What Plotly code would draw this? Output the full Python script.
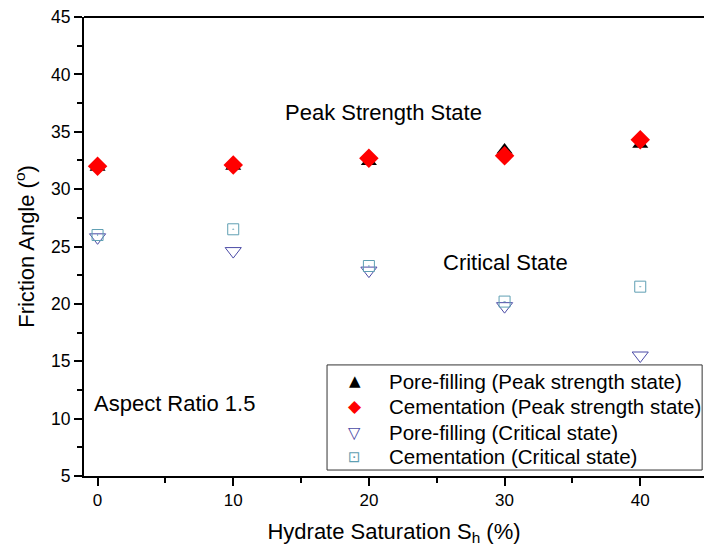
import plotly.graph_objects as go

# Hydrate saturation (%)
saturation = [0, 10, 20, 30, 40]

# Friction angles (degrees)
pore_filling_peak = [31.9, 32.0, 32.4, 33.4, 33.9]
cementation_peak = [32.0, 32.1, 32.7, 32.9, 34.3]
pore_filling_critical = [25.8, 24.6, 22.9, 19.8, 15.5]
cementation_critical = [26.0, 26.5, 23.3, 20.2, 21.5]

x_ticks = [0, 10, 20, 30, 40]
y_ticks = [5, 10, 15, 20, 25, 30, 35, 40, 45]

series_names = [
    "Pore-filling (Peak strength state)",
    "Cementation (Peak strength state)",
    "Pore-filling (Critical state)",
    "Cementation (Critical state)",
]

FONT = "Arial, Liberation Sans, sans-serif"

# style per series: (plot symbol, size, colour, legend glyph, glyph size)
styles = [
    ("triangle-up", 14, "black", "\u25B2", 15),
    ("diamond", 15, "#ff0000", "\u25C6", 17),
    ("triangle-down-open", 14, "#4b4ba6", "\u25BD", 16),
    ("square-open-dot", 11, "#5f9fb3", "\u22A1", 15),
]
series_values = [pore_filling_peak, cementation_peak,
                 pore_filling_critical, cementation_critical]

fig = go.Figure()
for name, vals, (sym, size, color, _, _) in zip(series_names, series_values, styles):
    fig.add_trace(go.Scatter(
        x=saturation, y=vals, mode="markers", name=name, showlegend=False,
        marker=dict(symbol=sym, size=size, color=color,
                    line=dict(width=1 if "open" in sym else 0)),
    ))

annotations = [
    dict(x=21.07, y=36.7, text="Peak Strength State", xanchor="center"),
    dict(x=30.05, y=23.6, text="Critical State", xanchor="center"),
    dict(x=-0.4, y=11.3, text="Aspect Ratio 1.5", xanchor="left"),
]
for a in annotations:
    fig.add_annotation(x=a["x"], y=a["y"], text=a["text"], xref="x", yref="y",
                       xanchor=a["xanchor"], yanchor="middle", showarrow=False,
                       font=dict(family=FONT, size=22, color="black"))

# top frame line
fig.add_shape(type="line", xref="paper", yref="paper", x0=0, x1=1, y0=1, y1=1,
              line=dict(color="black", width=2))

# legend box with compact rows
fig.add_shape(type="rect", xref="paper", yref="paper",
              x0=0.392, x1=0.997, y0=0.013, y1=0.242,
              line=dict(color="#333333", width=1), fillcolor="white", layer="above")
row_y = [0.206, 0.152, 0.095, 0.042]
for yy, name, (_, _, color, glyph, gsize) in zip(row_y, series_names, styles):
    fig.add_annotation(x=0.437, y=yy, xref="paper", yref="paper", text=glyph,
                       showarrow=False, xanchor="center", yanchor="middle",
                       font=dict(family="DejaVu Sans", size=gsize, color=color))
    fig.add_annotation(x=0.489, y=yy, xref="paper", yref="paper", text=name,
                       showarrow=False, xanchor="left", yanchor="middle",
                       font=dict(family=FONT, size=20.5, color="black"))

fig.update_layout(
    width=704, height=555,
    margin=dict(l=84, r=0, t=17, b=79),
    paper_bgcolor="white", plot_bgcolor="white",
    font=dict(family=FONT, color="black"),
    showlegend=False,
    xaxis=dict(
        range=[-1, 44.7], tickvals=x_ticks, ticks="outside", ticklen=8,
        tickwidth=2, tickcolor="black", showline=True, linecolor="black",
        linewidth=2, showgrid=False, zeroline=False,
        tickfont=dict(family=FONT, size=17),
        minor=dict(dtick=5, tick0=0, ticks="outside", ticklen=5,
                   tickwidth=2, tickcolor="black", showgrid=False),
        title=dict(text="Hydrate Saturation S<sub>h</sub> (%)",
                   font=dict(family=FONT, size=22), standoff=14),
    ),
    yaxis=dict(
        range=[5, 45], tickvals=y_ticks, ticks="outside", ticklen=8,
        tickwidth=2, tickcolor="black", showline=True, linecolor="black",
        linewidth=2, showgrid=False, zeroline=False,
        tickfont=dict(family=FONT, size=17.5),
        minor=dict(dtick=2.5, tick0=5, ticks="outside", ticklen=5,
                   tickwidth=2, tickcolor="black", showgrid=False),
        title=dict(text="Friction Angle (<sup>o</sup>)",
                   font=dict(family=FONT, size=22), standoff=10),
    ),
)

fig.write_html("out.html")
